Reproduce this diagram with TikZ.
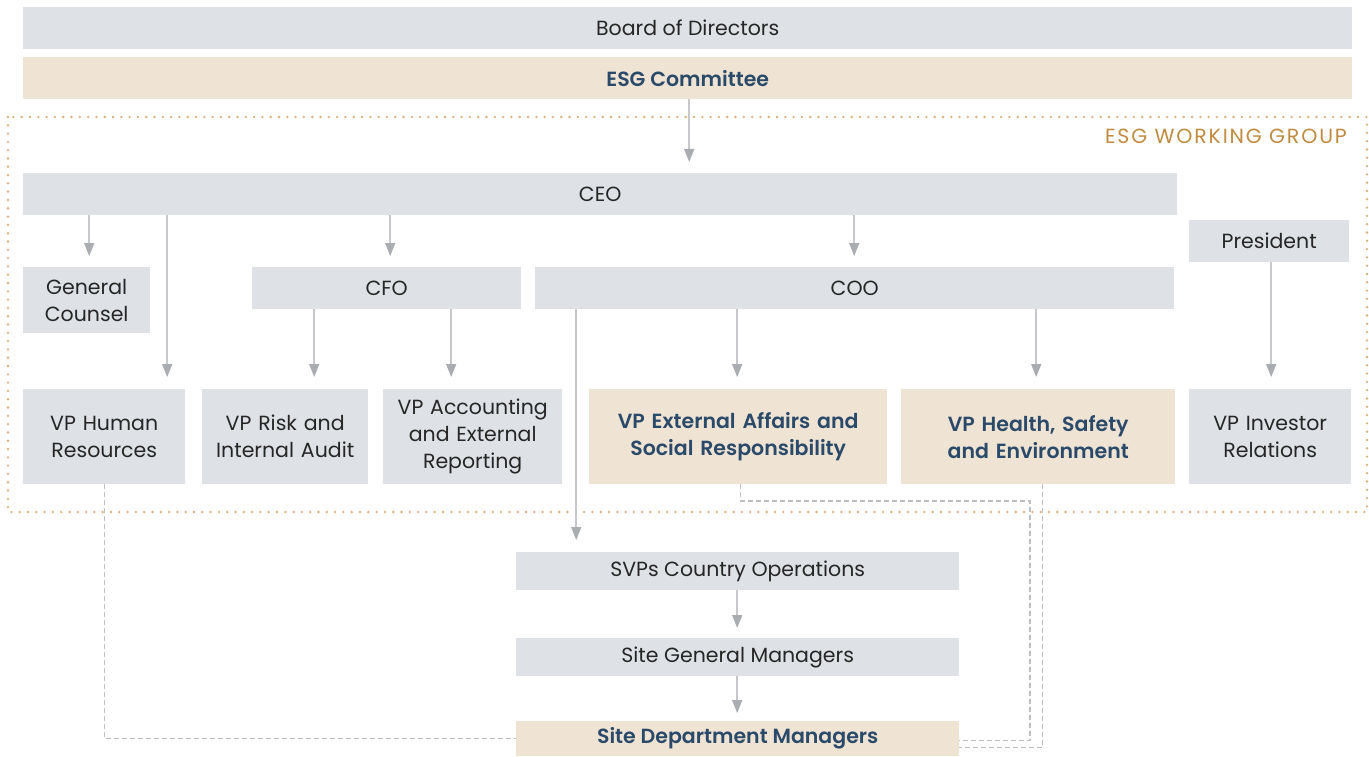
\documentclass[tikz,border=0pt]{standalone}
\usepackage{fontspec}
\setmainfont{Poppins}[BoldFont={Poppins SemiBold}]
\usetikzlibrary{arrows.meta,calc}
\definecolor{boxgrey}{HTML}{DEE1E5}
\definecolor{boxbeige}{HTML}{EFE4D4}
\definecolor{navy}{HTML}{2B4A6A}
\definecolor{txt}{HTML}{262626}
\definecolor{gold}{HTML}{C08B40}
\definecolor{dotc}{HTML}{D9B07A}
\definecolor{linec}{HTML}{C6C8CB}
\definecolor{headc}{HTML}{A9ACB0}
\definecolor{dashc}{HTML}{BDBFC2}
\tikzset{
  box/.style={fill=boxgrey, draw=none, inner sep=0pt, anchor=north west, align=center, text=txt,
     font=\fontsize{20.5}{27}\selectfont},
  ebox/.style={box, fill=boxbeige, text=navy, font=\fontsize{20.5}{27}\selectfont\bfseries},
  arr/.style={draw=linec, line width=1.5pt, -{Triangle[width=10pt,length=13pt,fill=headc,color=headc]}},
  dsh/.style={draw=dashc, line width=1.2pt, dash pattern=on 5pt off 3pt},
}
\begin{document}
\begin{tikzpicture}[x=1pt,y=-1pt]
\useasboundingbox (0,0) rectangle (1369,757);
% dotted frame
\draw[dotc, line width=2.6pt, line cap=round, dash pattern=on 0pt off 8.3pt] (8,117) rectangle (1367,512);
\node[anchor=east, text=gold, font=\fontsize{20.5}{24}\selectfont\addfontfeature{LetterSpace=9}, inner sep=0pt] (wg) at (1347,136) {ESG WORKING GROUP};
% boxes
\node[box, minimum width=1329, minimum height=42] (bod) at (23,7) {Board of Directors};
\node[ebox, minimum width=1329, minimum height=42] (esg) at (23,57) {ESG Committee};
\node[box, minimum width=1154, minimum height=42] (ceo) at (23,173) {CEO};
\node[box, minimum width=160, minimum height=42] (pres) at (1189,220) {President};
\node[box, minimum width=127, minimum height=66, text width=125] (gc) at (23,267) {General\\Counsel};
\node[box, minimum width=269, minimum height=42] (cfo) at (252,267) {CFO};
\node[box, minimum width=639, minimum height=42] (coo) at (535,267) {COO};
\node[box, minimum width=162, minimum height=95, text width=160] (hr) at (23,389) {VP Human\\Resources};
\node[box, minimum width=166, minimum height=95, text width=164] (risk) at (202,389) {VP Risk and\\Internal Audit};
\node[box, minimum width=179, minimum height=95, text width=177] (acc) at (383,389) {VP Accounting\\and External\\Reporting};
\node[ebox, minimum width=298, minimum height=95, text width=296] (ext) at (589,389) {VP External Affairs and\\Social Responsibility};
\node[ebox, minimum width=274, minimum height=95, text width=272] (hse) at (901,389) {VP Health, Safety\\and Environment};
\node[box, minimum width=162, minimum height=95, text width=160] (ir) at (1189,389) {VP Investor\\Relations};
\node[box, minimum width=443, minimum height=38] (svp) at (516,552) {SVPs Country Operations};
\node[box, minimum width=443, minimum height=38] (sgm) at (516,638) {Site General Managers};
\node[ebox, minimum width=443, minimum height=35] (sdm) at (516,721) {Site Department Managers};
% helper coordinates
\path ([xshift=2.5pt]gc.north) coordinate (gcin)
      ([xshift=63pt]hr.north) coordinate (hrin)
      ([xshift=3.5pt]cfo.north) coordinate (cfoin)
      ([xshift=-0.5pt]coo.north) coordinate (cooin)
      ([xshift=29pt]risk.north) coordinate (riskin)
      ([xshift=-21.5pt]acc.north) coordinate (accin)
      ([xshift=-1pt]ext.north) coordinate (extin)
      ([xshift=-2pt]hse.north) coordinate (hsein)
      ([xshift=1pt]ir.north) coordinate (irin)
      ([xshift=-161.5pt]svp.north) coordinate (svpin)
      ([xshift=-0.5pt]sgm.north) coordinate (sgmin)
      ([xshift=-0.5pt]sdm.north) coordinate (sdmin)
      ([xshift=1.5pt]esg.south) coordinate (esgout);
% arrows
\draw[arr, shorten >=11pt] (esgout) -- (esgout |- ceo.north);
\draw[arr, shorten >=11pt] (ceo.south -| gcin) -- (gcin);
\draw[arr, shorten >=12pt] (ceo.south -| hrin) -- (hrin);
\draw[arr, shorten >=11pt] (ceo.south -| cfoin) -- (cfoin);
\draw[arr, shorten >=11pt] (ceo.south -| cooin) -- (cooin);
\draw[arr, shorten >=12pt] (cfo.south -| riskin) -- (riskin);
\draw[arr, shorten >=12pt] (cfo.south -| accin) -- (accin);
\draw[arr, shorten >=12pt] (coo.south -| extin) -- (extin);
\draw[arr, shorten >=12pt] (coo.south -| hsein) -- (hsein);
\draw[arr, shorten >=12pt] (pres.south -| irin) -- (irin);
\draw[arr, shorten >=12pt] (coo.south -| svpin) -- (svpin);
\draw[arr, shorten >=10pt] (svp.south -| sgmin) -- (sgmin);
\draw[arr, shorten >=8pt] (sgm.south -| sdmin) -- (sdmin);
% dashed links
\coordinate (c1) at (1030,501);
\draw[dsh] (hr.south) |- (sdm.west);
\draw[dsh] ([xshift=2pt]ext.south) |- (c1) |- ([yshift=-2pt]sdm.east);
\draw[dsh] ([xshift=4pt]hse.south) |- ([yshift=-9pt]sdm.east);
\end{tikzpicture}
\end{document}
